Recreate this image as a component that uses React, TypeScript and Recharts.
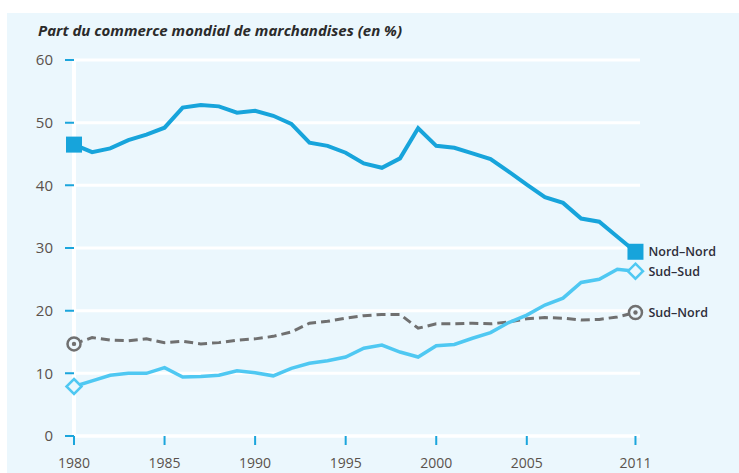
import { LineChart, Line, XAxis, YAxis, CartesianGrid } from 'recharts';

const years = [
  1980, 1981, 1982, 1983, 1984, 1985, 1986, 1987, 1988, 1989, 1990, 1991, 1992, 1993, 1994, 1995,
  1996, 1997, 1998, 1999, 2000, 2001, 2002, 2003, 2004, 2005, 2006, 2007, 2008, 2009, 2010, 2011,
];
const nordNord = [
  46.5, 45.3, 45.9, 47.2, 48.1, 49.2, 52.4, 52.8, 52.6, 51.6, 51.9, 51.1, 49.8, 46.8, 46.3, 45.2,
  43.5, 42.8, 44.3, 49.1, 46.3, 46.0, 45.1, 44.2, 42.2, 40.1, 38.1, 37.2, 34.7, 34.2, 31.8, 29.4,
];
const sudSud = [
  7.9, 8.8, 9.7, 10.0, 10.0, 10.9, 9.4, 9.5, 9.7, 10.4, 10.1, 9.6, 10.8, 11.6, 12.0, 12.6,
  14.0, 14.5, 13.4, 12.6, 14.4, 14.6, 15.6, 16.5, 18.1, 19.3, 20.9, 22.0, 24.5, 25.0, 26.6, 26.3,
];
const sudNord = [
  14.7, 15.7, 15.3, 15.2, 15.5, 14.9, 15.1, 14.7, 14.9, 15.3, 15.5, 15.9, 16.6, 18.0, 18.3, 18.8,
  19.2, 19.4, 19.4, 17.2, 17.9, 17.9, 18.0, 17.9, 18.2, 18.7, 18.9, 18.8, 18.5, 18.6, 19.0, 19.7,
];
const xTicks = [1980, 1985, 1990, 1995, 2000, 2005, 2011];
const yTicks = [0, 10, 20, 30, 40, 50, 60];
const title = 'Part du commerce mondial de marchandises (en %)';

const data = years.map((year, i) => ({
  year,
  nordNord: nordNord[i],
  sudSud: sudSud[i],
  sudNord: sudNord[i],
}));

const BG = '#ebf7fd';
const BLUE = '#17a4db';
const LIGHT = '#4fc8f2';
const GREY = '#707070';
const TICK_BLUE = '#1ba5dc';
const LABEL_FONT = '"Open Sans", sans-serif';
const last = years.length - 1;

const seriesLabel = (cx: number, cy: number, text: string) => (
  <text
    x={cx + 13}
    y={cy}
    dominantBaseline="central"
    fontSize={12.5}
    fontWeight={600}
    fill="#2e2e3a"
    fontFamily={LABEL_FONT}
  >
    {text}
  </text>
);

const squareDot = (props: any) => {
  const { cx, cy, index } = props;
  if (index !== 0 && index !== last) return <g key={`nn-${index}`} />;
  return (
    <g key={`nn-${index}`}>
      <rect x={cx - 8} y={cy - 8} width={16} height={16} fill={BLUE} />
      {index === last && seriesLabel(cx, cy, 'Nord–Nord')}
    </g>
  );
};

const diamondDot = (props: any) => {
  const { cx, cy, index } = props;
  if (index !== 0 && index !== last) return <g key={`ss-${index}`} />;
  return (
    <g key={`ss-${index}`}>
      <path
        d={`M${cx},${cy - 7.5} L${cx + 7.5},${cy} L${cx},${cy + 7.5} L${cx - 7.5},${cy} Z`}
        fill={BG}
        stroke={LIGHT}
        strokeWidth={2.5}
      />
      {index === last && seriesLabel(cx, cy, 'Sud–Sud')}
    </g>
  );
};

const ringDot = (props: any) => {
  const { cx, cy, index } = props;
  if (index !== 0 && index !== last) return <g key={`sn-${index}`} />;
  return (
    <g key={`sn-${index}`}>
      <circle cx={cx} cy={cy} r={6.5} fill={BG} stroke={GREY} strokeWidth={2.5} />
      <circle cx={cx} cy={cy} r={2.2} fill={GREY} />
      {index === last && seriesLabel(cx, cy, 'Sud–Nord')}
    </g>
  );
};

export default function App() {
  return (
    <div style={{ position: 'absolute', left: 0, top: 0, width: 739, height: 473, background: '#fff', overflow: 'hidden' }}>
      <div style={{ position: 'absolute', left: 7, top: 13, width: 732, height: 460, background: BG }} />
      <div
        style={{
          position: 'absolute',
          left: 38,
          top: 20,
          fontFamily: '"Open Sans", sans-serif',
          fontStyle: 'italic',
          fontWeight: 700,
          fontSize: 15,
          color: '#2b2b2b',
          whiteSpace: 'nowrap',
        }}
      >
        {title}
      </div>
      <div style={{ position: 'absolute', left: 0, top: 0 }}>
        <LineChart width={739} height={473} data={data} margin={{ top: 60, right: 99, bottom: 0, left: 14 }}>
          <CartesianGrid vertical={false} stroke="#ffffff" strokeWidth={3} />
          <XAxis
            dataKey="year"
            type="number"
            domain={[1980, 2011.25]}
            ticks={xTicks}
            height={37}
            axisLine={{ stroke: '#ffffff', strokeWidth: 3 }}
            tickLine={{ stroke: TICK_BLUE, strokeWidth: 2, strokeDasharray: '0 6 9 30' }}
            tickSize={15}
            tickMargin={7}
            tick={{ fontSize: 14, fill: '#5a524c', fontFamily: LABEL_FONT }}
          />
          <YAxis
            domain={[0, 60]}
            ticks={yTicks}
            width={60}
            axisLine={{ stroke: '#ffffff', strokeWidth: 4 }}
            tickLine={{ stroke: TICK_BLUE, strokeWidth: 2, strokeDasharray: '0 4 9 30' }}
            tickSize={13}
            tickMargin={8}
            tick={{ fontSize: 15, fill: '#5a524c', fontFamily: LABEL_FONT }}
          />
          <Line
            dataKey="sudNord"
            stroke={GREY}
            strokeWidth={3}
            strokeDasharray="9 5"
            dot={ringDot}
            activeDot={false}
            isAnimationActive={false}
          />
          <Line
            dataKey="sudSud"
            stroke={LIGHT}
            strokeWidth={3.5}
            dot={diamondDot}
            activeDot={false}
            isAnimationActive={false}
          />
          <Line
            dataKey="nordNord"
            stroke={BLUE}
            strokeWidth={4}
            dot={squareDot}
            activeDot={false}
            isAnimationActive={false}
          />
        </LineChart>
      </div>
    </div>
  );
}
